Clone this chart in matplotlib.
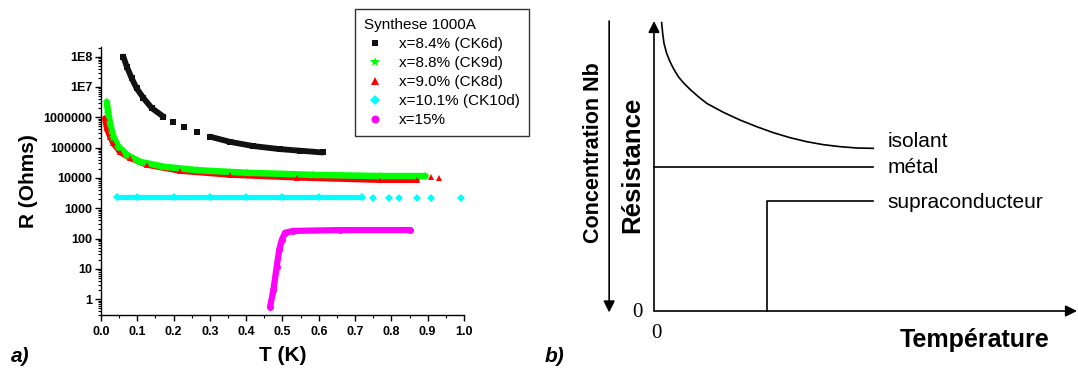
import matplotlib
matplotlib.use("Agg")
import matplotlib.pyplot as plt
from matplotlib.lines import Line2D
from matplotlib.ticker import FixedLocator, FixedFormatter, LogLocator, MultipleLocator, NullFormatter

plt.rcParams['font.family'] = ['Liberation Sans', 'DejaVu Sans']

# ---- panel a) data: R(T) curves ----
t_ck6d = [0.0615, 0.071, 0.0845, 0.098, 0.117, 0.140, 0.172,
          0.199, 0.23, 0.264,
          0.30, 0.355, 0.42, 0.493, 0.548, 0.611]
r_ck6d = [1.0e8, 4.7e7, 1.95e7, 9.1e6, 4.3e6, 2.0e6, 1.05e6,
          7.1e5, 4.9e5, 3.2e5,
          2.3e5, 1.55e5, 1.12e5, 8.9e4, 7.9e4, 6.9e4]

t_ck9d = [0.0157, 0.020, 0.0267, 0.034, 0.048, 0.071, 0.107, 0.172,
          0.264, 0.401, 0.585, 0.769, 0.894]
r_ck9d = [3.2e6, 1.35e6, 4.9e5, 2.3e5, 1.07e5, 5.8e4, 3.4e4, 2.35e4,
          1.8e4, 1.48e4, 1.26e4, 1.15e4, 1.15e4]

t_ck8d = [0.011, 0.0157, 0.0248, 0.034, 0.052, 0.080, 0.126, 0.218,
          0.355, 0.539, 0.769, 0.87, 0.91, 0.93]
r_ck8d = [9.3e5, 4.4e5, 2.3e5, 1.38e5, 7.2e4, 4.5e4, 2.7e4, 1.7e4,
          1.26e4, 1.02e4, 8.5e3, 8.5e3, 1.1e4, 9.8e3]

t_ck10d = [0.043, 0.10, 0.20, 0.30, 0.40, 0.50, 0.60, 0.72,
           0.748, 0.793, 0.82, 0.871, 0.909, 0.992]
r_ck10d = [2300, 2300, 2300, 2300, 2300, 2300, 2300, 2300,
           2250, 2250, 2250, 2250, 2250, 2250]

t_x15 = [0.466, 0.475, 0.484, 0.491, 0.498, 0.507, 0.530, 0.658, 0.851]
r_x15 = [0.56, 2.0, 11.7, 42.0, 89.0, 155.0, 178.0, 190.0, 190.0]

legend_title = "Synthese 1000A"
legend_labels = ["x=8.4% (CK6d)", "x=8.8% (CK9d)", "x=9.0% (CK8d)",
                 "x=10.1% (CK10d)", "x=15%"]

y_ticks = [1, 10, 100, 1000, 10000, 100000, 1000000, 1e7, 1e8]
y_ticklabels = ["1", "10", "100", "1000", "10000", "100000", "1000000", "1E7", "1E8"]

# ---- panel b) schematic (normalised units) ----
isolant_t = [0.0181, 0.0205, 0.0236, 0.0299, 0.0378, 0.0457, 0.0575, 0.0693,
             0.0851, 0.1048, 0.1245, 0.1639, 0.2033, 0.2427, 0.2821, 0.3215,
             0.3609, 0.4003, 0.4397, 0.4791, 0.5185]
isolant_r = [0.9943, 0.9575, 0.9230, 0.8885, 0.8598, 0.8368, 0.8080, 0.7874,
             0.7644, 0.7391, 0.7161, 0.6851, 0.6586, 0.6356, 0.6149, 0.5977,
             0.5839, 0.5736, 0.5667, 0.5621, 0.5609]
metal_r = 0.497
supra_tc = 0.267
supra_r = 0.379
curve_end = 0.5185

fig = plt.figure(figsize=(10.78, 3.71), dpi=100)

# ===================== panel a) =====================
ax = fig.add_axes([0.0937, 0.151, 0.3367, 0.7224])
ax.set_yscale('log')

series = [
    (t_ck6d, r_ck6d, 's', '#111111', 4.2, 1.0, [(0, 7), (10, 16)]),
    (t_ck9d, r_ck9d, '*', '#00ff00', 6.5, 0.72, [(0, 13)]),
    (t_ck8d, r_ck8d, '^', '#ff0000', 5.0, 0.85, [(0, 12)]),
    (t_ck10d, r_ck10d, 'D', '#00ffff', 4.0, 0.95, [(0, 8)]),
    (t_x15, r_x15, 'o', '#ff00ff', 5.0, 0.9, [(0, 9)]),
]
# red drawn under green as in the original
for idx in [0, 2, 1, 3, 4]:
    t, r, m, c, ms, wf, segs = series[idx]
    for a, b in segs:
        ax.plot(t[a:b], r[a:b], '-', color=c, lw=ms * wf,
                solid_capstyle='round', zorder=2)
    ax.plot(t, r, linestyle='None', marker=m, color=c, markersize=ms,
            markeredgewidth=0, zorder=3)

ax.set_xlim(0, 1.0)
ax.set_ylim(0.30, 2.09e8)
ax.spines['top'].set_visible(False)
ax.spines['right'].set_visible(False)
for s in ['left', 'bottom']:
    ax.spines[s].set_linewidth(1.0)

ax.yaxis.set_major_locator(FixedLocator(y_ticks))
ax.yaxis.set_major_formatter(FixedFormatter(y_ticklabels))
ax.yaxis.set_minor_locator(LogLocator(base=10, subs=[2, 3, 4, 5, 6, 7, 8, 9], numticks=20))
ax.yaxis.set_minor_formatter(NullFormatter())
ax.xaxis.set_minor_locator(MultipleLocator(0.05))
ax.set_xticks([i / 10 for i in range(11)])
ax.set_xticklabels(["%.1f" % (i / 10) for i in range(11)])

ax.tick_params(which='major', direction='out', length=4, width=1.0,
               labelsize=9, pad=2)
ax.tick_params(which='minor', direction='out', length=2.2, width=0.8)
ax.tick_params(axis='x', which='major', pad=4)
for lab in ax.get_xticklabels() + ax.get_yticklabels():
    lab.set_fontweight('bold')

ax.set_xlabel("T (K)", fontsize=15, fontweight='bold', labelpad=6)
ax.set_ylabel("R (Ohms)", fontsize=15, fontweight='bold', labelpad=4)

handles = [Line2D([], [], linestyle='None', marker=s[2], color=s[3],
                  markersize=s[4] * 1.15, markeredgewidth=0) for s in series]
leg = fig.legend(handles, legend_labels, title=legend_title,
                 loc='upper left', bbox_to_anchor=(355 / 1078, 1 - 9 / 371),
                 fontsize=11, title_fontsize=11, frameon=True, fancybox=False,
                 edgecolor='black', borderpad=0.62, labelspacing=0.32,
                 handletextpad=0.85, handlelength=1.4, borderaxespad=0,
                 alignment='left')
leg.get_frame().set_linewidth(1.0)

fig.text(11 / 1078, 1 - 356 / 371, "a)", fontsize=15, fontweight='bold',
         fontstyle='italic', va='center', ha='left')

# ===================== panel b) =====================
bx = fig.add_axes([654 / 1078, 1 - 311 / 371, 423 / 1078, 290 / 371])
bx.set_xlim(0, 1)
bx.set_ylim(0, 1)
bx.axis('off')

arrow = dict(arrowstyle='-|>', color='black', lw=1.2, mutation_scale=17,
             shrinkA=0, shrinkB=0)
bx.annotate("", xy=(1.0, 0), xytext=(0, 0), arrowprops=arrow, annotation_clip=False)
bx.annotate("", xy=(0, 1.0), xytext=(0, 0), arrowprops=arrow, annotation_clip=False)
bx.annotate("", xy=(-0.106, -0.005), xytext=(-0.106, 1.0), arrowprops=arrow,
            annotation_clip=False)

bx.plot(isolant_t, isolant_r, color='black', lw=1.2, clip_on=False)
bx.plot([0, curve_end], [metal_r, metal_r], color='black', lw=1.2, clip_on=False)
bx.plot([supra_tc, supra_tc, curve_end], [0, supra_r, supra_r], color='black',
        lw=1.2, clip_on=False)

bx.text(0.553, 0.585, "isolant", fontsize=15, va='center', ha='left')
bx.text(0.553, 0.495, "métal", fontsize=15, va='center', ha='left')
bx.text(0.553, 0.375, "supraconducteur", fontsize=15, va='center', ha='left')

bx.text(-0.144, 0.545, "Concentration Nb", fontsize=15.5, fontweight='bold',
        rotation=90, va='center', ha='center')
bx.text(-0.052, 0.505, "Résistance", fontsize=18.5, fontweight='bold',
        rotation=90, va='center', ha='center')
bx.text(0.757, -0.10, "Température", fontsize=18, fontweight='bold',
        va='center', ha='center')
bx.text(-0.040, -0.005, "0", fontsize=15, family='Liberation Serif',
        va='center', ha='center')
bx.text(0.005, -0.076, "0", fontsize=15, family='Liberation Serif',
        va='center', ha='center')

fig.text(545 / 1078, 1 - 356 / 371, "b)", fontsize=15, fontweight='bold',
         fontstyle='italic', va='center', ha='left')

fig.savefig("out.png", dpi=100)
